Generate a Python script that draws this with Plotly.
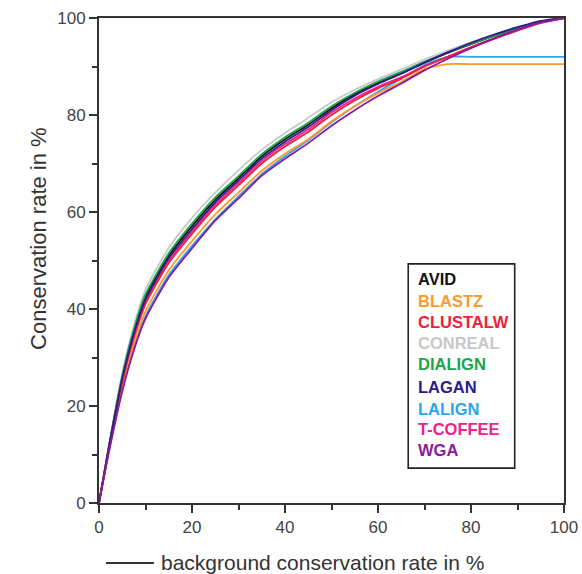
import plotly.graph_objects as go

# background conservation rate (%)
bg_rate = [0, 2, 5, 7.5, 10, 15, 20, 25, 30, 35, 40, 45, 50, 55, 60, 65, 70, 75, 80, 85, 90, 95, 100]

# conservation rate (%) per aligner
avid     = [0, 10.9, 25.9, 35.4, 42.6, 51.0, 57.1, 62.5, 67.0, 71.5, 75.0, 78.0, 81.4, 84.3, 86.6, 88.6, 90.8, 92.8, 94.6, 96.3, 97.8, 99.2, 100]
blastz   = [0, 10.2, 24.1, 32.8, 39.5, 48.0, 54.0, 59.5, 64.0, 68.5, 72.0, 75.0, 78.7, 81.8, 84.5, 86.8, 89.5, 90.5, 90.5, 90.5, 90.5, 90.5, 90.5]
clustalw = [0, 10.5, 25.0, 34.0, 41.0, 49.5, 55.5, 61.0, 65.5, 70.0, 73.5, 76.5, 80.0, 83.0, 85.5, 87.5, 90.0, 92.0, 94.0, 95.8, 97.5, 99.0, 100]
conreal  = [0, 11.3, 26.8, 36.5, 44.0, 52.6, 58.8, 64.0, 68.6, 72.8, 76.3, 79.4, 82.6, 85.2, 87.4, 89.4, 91.5, 93.3, 95.0, 96.6, 98.0, 99.3, 100]
dialign  = [0, 11.0, 26.2, 35.8, 43.0, 51.5, 57.6, 63.0, 67.4, 71.9, 75.4, 78.4, 81.8, 84.6, 86.9, 88.9, 91.0, 92.9, 94.7, 96.3, 97.8, 99.2, 100]
lagan    = [0, 10.8, 25.6, 35.0, 42.0, 50.5, 56.5, 62.0, 66.5, 71.0, 74.5, 77.5, 81.0, 84.0, 86.4, 88.5, 90.8, 92.9, 94.9, 96.6, 98.1, 99.4, 100]
lalign   = [0, 10.0, 23.5, 32.0, 38.5, 47.0, 53.0, 58.5, 63.2, 67.8, 71.5, 74.8, 78.5, 81.8, 84.8, 87.5, 90.3, 92.0, 92.0, 92.0, 92.0, 92.0, 92.0]
tcoffee  = [0, 10.6, 25.3, 34.4, 41.5, 50.0, 56.0, 61.5, 66.0, 70.5, 74.0, 77.0, 80.5, 83.4, 85.8, 87.8, 90.1, 92.0, 93.9, 95.7, 97.4, 99.0, 100]
wga      = [0, 9.9, 23.0, 31.5, 38.0, 46.5, 52.5, 58.2, 62.8, 67.5, 71.0, 74.2, 77.8, 81.0, 83.9, 86.5, 89.2, 91.6, 93.8, 95.8, 97.6, 99.1, 100]

names  = ["AVID", "BLASTZ", "CLUSTALW", "CONREAL", "DIALIGN", "LAGAN", "LALIGN", "T-COFFEE", "WGA"]
series = [avid, blastz, clustalw, conreal, dialign, lagan, lalign, tcoffee, wga]
colors = ["#111111", "#ff9a2a", "#f0203c", "#c8c8c8", "#1aa64a", "#2c1a8c", "#2aa6f0", "#f0208c", "#8c1a9c"]

# drawing order: light grey and black underneath, the rest on top
draw_order = [3, 0, 4, 6, 1, 7, 2, 5, 8]

fig = go.Figure()
for i in draw_order:
    fig.add_trace(go.Scatter(
        x=bg_rate, y=series[i], mode="lines", name=names[i],
        line=dict(color=colors[i], width=1.8, shape="spline", smoothing=0.6),
        showlegend=False,
    ))

axis_common = dict(
    range=[0, 100], showgrid=False, zeroline=False, automargin=False,
    showline=True, linecolor="#333333", linewidth=2, mirror=True,
    ticks="outside", ticklen=8, tickwidth=1.6, tickcolor="#333333",
    tickvals=[0, 20, 40, 60, 80, 100],
    tickfont=dict(family="Liberation Sans, Arial", size=17, color="#444444"),
    minor=dict(ticks="outside", ticklen=5, tickwidth=1.6, tickcolor="#333333", dtick=10),
)
fig.update_xaxes(**axis_common)
fig.update_yaxes(**axis_common)

# legend box with coloured labels
fig.add_shape(type="rect", xref="x", yref="y", x0=66.5, x1=89.4, y0=7.2, y1=49.3,
              line=dict(color="#222222", width=1.6), fillcolor="white", layer="above")
legend_y = [46.2, 41.7, 37.4, 32.9, 28.7, 24.0, 19.4, 15.3, 11.0]
for name, col, ly in zip(names, colors, legend_y):
    fig.add_annotation(x=68.2, y=ly, xref="x", yref="y", text="<b>%s</b>" % name,
                       showarrow=False, xanchor="left", yanchor="middle",
                       font=dict(family="Liberation Sans, Arial", size=16.5, color=col))

# axis titles
fig.add_annotation(x=-0.163, y=0.546, xref="paper", yref="paper",
                   text="Conservation rate in %", textangle=-90, showarrow=False,
                   font=dict(family="Liberation Sans, Arial", size=22, color="#333333"))
fig.add_shape(type="line", xref="paper", yref="paper", x0=0.015, x1=0.118, y0=-0.1237, y1=-0.1237,
              line=dict(color="#333333", width=1.8))
fig.add_annotation(x=0.129, y=-0.1237, xref="paper", yref="paper",
                   text="background conservation rate in %", showarrow=False,
                   xanchor="left", yanchor="middle",
                   font=dict(family="Liberation Sans, Arial", size=21, color="#333333"))

fig.update_layout(
    width=582, height=574,
    margin=dict(l=99, r=18, t=18, b=71),
    plot_bgcolor="white", paper_bgcolor="white",
)

fig.write_html("out.html")
